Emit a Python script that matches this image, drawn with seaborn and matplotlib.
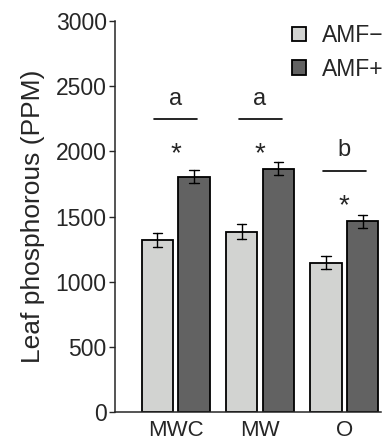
import numpy as np
import pandas as pd
import matplotlib
matplotlib.use("Agg")
import matplotlib.pyplot as plt
import seaborn as sns

sites = ["MWC", "MW", "O"]
treatments = ["AMF\u2212", "AMF+"]
amf_minus = [1320, 1385, 1145]
amf_plus = [1805, 1865, 1465]
se_minus = [55, 55, 50]
se_plus = [50, 50, 50]
letters = ["a", "a", "b"]

# two rows per bar (mean - se, mean + se) so seaborn draws the error bar itself
rows = []
for i, site in enumerate(sites):
    for trt, means, ses in [(treatments[0], amf_minus, se_minus), (treatments[1], amf_plus, se_plus)]:
        rows.append({"site": site, "trt": trt, "P": means[i] - ses[i]})
        rows.append({"site": site, "trt": trt, "P": means[i] + ses[i]})
df = pd.DataFrame(rows)

sns.set_style("ticks")
plt.rcParams["font.family"] = ["Liberation Sans", "DejaVu Sans"]

fig = plt.figure(figsize=(3.9, 4.46), dpi=100)
ax = fig.add_axes([0.295, 0.076, 0.682, 0.877])

sns.barplot(data=df, x="site", y="P", hue="trt", order=sites, hue_order=treatments,
            palette={treatments[0]: "#d2d3d1", treatments[1]: "#626262"},
            errorbar=lambda v: (v.min(), v.max()), capsize=0.22,
            err_kws={"color": "black", "linewidth": 1.0},
            edgecolor="black", linewidth=1.3, width=0.87, gap=0.15, ax=ax)

# significance letters, bars and asterisks above each site
for i, site in enumerate(sites):
    if letters[i] == "b":
        y_letter, y_line, y_star = 2010, 1848, 1580
    else:
        y_letter, y_line, y_star = 2405, 2250, 1975
    ax.text(i, y_letter, letters[i], ha="center", va="center", fontsize=17)
    ax.plot([i - 0.255, i + 0.255], [y_line, y_line], color="black", linewidth=1.2)
    ax.text(i, y_star, "*", ha="center", va="center", fontsize=20)

ax.set_ylim(0, 3000)
ax.set_xlim(-0.72, 2.435)
ax.set_yticks(np.arange(0, 3001, 500))
ax.set_xlabel("")
ax.set_ylabel("Leaf phosphorous (PPM)", fontsize=19, labelpad=8)
ax.tick_params(axis="y", labelsize=16.5, direction="out", length=4, width=1, pad=2)
ax.tick_params(axis="x", labelsize=16, length=0, pad=6)
sns.despine(ax=ax)
for s in ["left", "bottom"]:
    ax.spines[s].set_linewidth(1.1)

leg = ax.legend(loc="upper right", bbox_to_anchor=(1.045, 1.015), frameon=False, fontsize=16.5,
                handlelength=0.6, handleheight=0.6, handletextpad=0.7, labelspacing=0.45,
                borderaxespad=0)

fig.savefig("out.png", dpi=100)
